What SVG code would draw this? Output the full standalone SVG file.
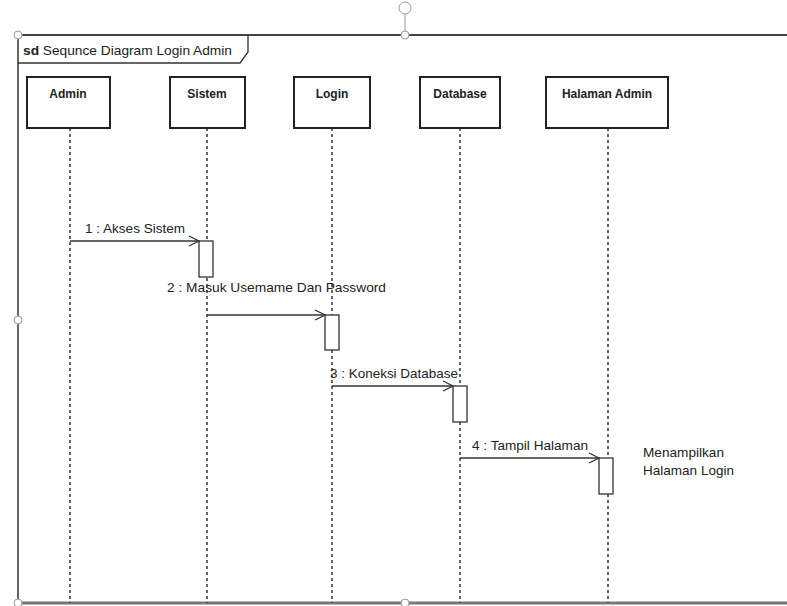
<svg xmlns="http://www.w3.org/2000/svg" width="787" height="606" viewBox="0 0 787 606">
<style>
.box{fill:#fff;stroke:#222;stroke-width:2}
.life{stroke:#333;stroke-width:1.5;stroke-dasharray:3,3;fill:none}
.act{fill:#fff;stroke:#333;stroke-width:1.3}
.msg{stroke:#333;stroke-width:1.3;fill:none}
.name{font-family:"Liberation Sans",Arial,sans-serif;font-size:12px;font-weight:bold;fill:#222;text-anchor:middle}
.lbl{font-family:"Liberation Sans",Arial,sans-serif;font-size:13.5px;fill:#222}
.handle{fill:#fff;stroke:#999;stroke-width:1}
</style>
<defs>
<marker id="open" markerWidth="12" markerHeight="12" refX="11" refY="6" orient="auto" markerUnits="userSpaceOnUse">
<path d="M1,1 L11,6 L1,11" fill="none" stroke="#333" stroke-width="1.3"/>
</marker>
</defs>
<rect width="787" height="606" fill="#fff"/>
<g id="frame">
<line x1="405" y1="14" x2="405" y2="35" stroke="#999" stroke-width="1"/>
<circle cx="405" cy="8" r="6" class="handle"/>
<line x1="18" y1="35" x2="787" y2="35" stroke="#444" stroke-width="2"/>
<line x1="18" y1="35" x2="18" y2="603" stroke="#666" stroke-width="2"/>
<line x1="18" y1="603" x2="787" y2="603" stroke="#777" stroke-width="3"/>
<path d="M18,63 L240,63 L248,52 L248,35" fill="none" stroke="#333" stroke-width="1.3"/>
<text x="23" y="55" class="lbl" font-size="13" textLength="209" lengthAdjust="spacingAndGlyphs"><tspan font-weight="bold">sd</tspan> Sequnce Diagram Login Admin</text>
<circle cx="18" cy="35" r="4" class="handle"/>
<circle cx="405" cy="35" r="4" class="handle"/>
<circle cx="18" cy="320" r="4" class="handle"/>
<circle cx="18" cy="603" r="4" class="handle"/>
<circle cx="405" cy="603" r="4" class="handle"/>
</g>
<g id="lifelines">
<line x1="70" y1="128" x2="70" y2="603" class="life"/>
<line x1="207" y1="128" x2="207" y2="603" class="life"/>
<line x1="332" y1="128" x2="332" y2="603" class="life"/>
<line x1="460" y1="128" x2="460" y2="603" class="life"/>
<line x1="608" y1="128" x2="608" y2="603" class="life"/>
</g>
<g id="admin"><rect x="27" y="77" width="83" height="51" class="box"/><text x="68" y="98" class="name">Admin</text></g>
<g id="sistem"><rect x="170" y="77" width="75" height="51" class="box"/><text x="207" y="98" class="name">Sistem</text></g>
<g id="login"><rect x="294" y="77" width="76" height="51" class="box"/><text x="332" y="98" class="name">Login</text></g>
<g id="database"><rect x="420" y="77" width="80" height="51" class="box"/><text x="460" y="98" class="name">Database</text></g>
<g id="halaman-admin"><rect x="546" y="77" width="122" height="51" class="box"/><text x="607" y="98" class="name">Halaman Admin</text></g>
<g id="activations">
<rect x="199" y="241" width="14" height="36" class="act"/>
<rect x="325" y="315" width="14" height="35" class="act"/>
<rect x="453" y="386" width="14" height="36" class="act"/>
<rect x="599" y="458" width="14" height="36" class="act"/>
</g>
<g id="connectors">
<line x1="70" y1="241" x2="199" y2="241" class="msg" marker-end="url(#open)"/>
<line x1="207" y1="315" x2="325" y2="315" class="msg" marker-end="url(#open)"/>
<line x1="332" y1="386" x2="453" y2="386" class="msg" marker-end="url(#open)"/>
<line x1="460" y1="458" x2="599" y2="458" class="msg" marker-end="url(#open)"/>
<text x="85" y="233" class="lbl" textLength="100" lengthAdjust="spacingAndGlyphs">1 : Akses Sistem</text>
<text x="167" y="292" class="lbl" textLength="219" lengthAdjust="spacingAndGlyphs">2 : Masuk Usemame Dan Password</text>
<text x="330" y="378" class="lbl" textLength="128" lengthAdjust="spacingAndGlyphs">3 : Koneksi Database</text>
<text x="472" y="450" class="lbl" textLength="116" lengthAdjust="spacingAndGlyphs">4 : Tampil Halaman</text>
</g>
<g id="note">
<text x="643" y="457" class="lbl" textLength="81" lengthAdjust="spacingAndGlyphs">Menampilkan</text>
<text x="643" y="475" class="lbl" textLength="91" lengthAdjust="spacingAndGlyphs">Halaman Login</text>
</g>
</svg>
